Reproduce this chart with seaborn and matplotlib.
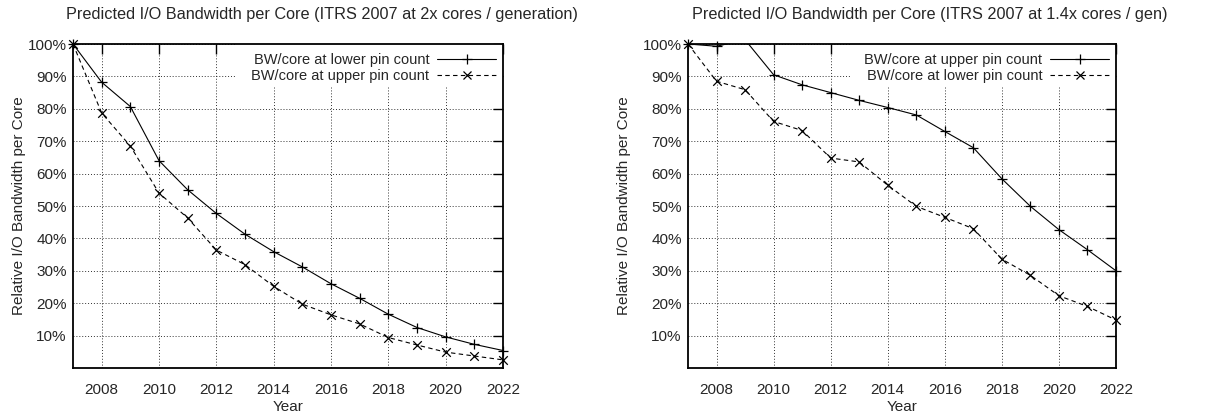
import matplotlib
matplotlib.use("Agg")
import matplotlib.pyplot as plt
from matplotlib.lines import Line2D
from matplotlib.patches import Rectangle
from matplotlib.ticker import FuncFormatter
import seaborn as sns
import pandas as pd

years = list(range(2007, 2023))

# Left panel: 2x cores / generation
left_lower = [100, 88.2, 80.7, 64.0, 55.0, 47.7, 41.3, 35.9, 31.2, 26.0, 21.5, 16.6, 12.5, 9.6, 7.3, 5.4]
left_upper = [100, 78.7, 68.5, 54.0, 46.3, 36.4, 31.9, 25.2, 19.7, 16.4, 13.6, 9.4, 7.1, 4.9, 3.7, 2.5]

# Right panel: 1.4x cores / gen
right_upper = [100, 99.3, 101.3, 90.5, 87.4, 85.0, 82.6, 80.4, 78.1, 73.0, 68.0, 58.4, 49.9, 42.7, 36.5, 30.0]
right_lower = [100, 88.5, 85.9, 76.1, 73.3, 64.8, 63.6, 56.4, 49.9, 46.5, 43.0, 33.6, 28.6, 22.3, 19.0, 14.8]

titles = ["Predicted I/O Bandwidth per Core (ITRS 2007 at 2x cores / generation)",
          "Predicted I/O Bandwidth per Core (ITRS 2007 at 1.4x cores / gen)"]
labels_left = ["BW/core at lower pin count", "BW/core at upper pin count"]
labels_right = ["BW/core at upper pin count", "BW/core at lower pin count"]
x_ticks = list(range(2008, 2023, 2))
y_ticks = list(range(10, 101, 10))

sns.set_style("white")
plt.rcParams['font.family'] = ['Liberation Sans', 'DejaVu Sans']
plt.rcParams['font.size'] = 11

W, H = 1207, 419
fig = plt.figure(figsize=(W / 100, H / 100), dpi=100)
ax1 = fig.add_axes([73 / W, (H - 368) / H, 430 / W, 324 / H])
ax2 = fig.add_axes([688 / W, (H - 368) / H, 428 / W, 324 / H])

dash = (0, (4, 3))

def draw(ax, solid, dashed, labels, title, title_x, ylab_x):
    df = pd.DataFrame({"Year": years, "solid": solid, "dashed": dashed})
    sns.lineplot(data=df, x="Year", y="solid", ax=ax, color="black", linewidth=0.8,
                 linestyle="-", zorder=3)
    sns.lineplot(data=df, x="Year", y="dashed", ax=ax, color="black", linewidth=0.8,
                 zorder=3)
    ax.lines[-1].set_linestyle(dash)
    ds = df[df["solid"] <= 100]
    dd = df[df["dashed"] <= 100]
    sns.scatterplot(data=ds, x="Year", y="solid", ax=ax, marker="+", color="black",
                    s=50, linewidth=0.9, clip_on=False, zorder=4)
    sns.scatterplot(data=dd, x="Year", y="dashed", ax=ax, marker="x", color="black",
                    s=38, linewidth=0.9, clip_on=False, zorder=4)
    ax.set_xlim(2007, 2022)
    ax.set_ylim(0, 100)
    ax.set_xticks(x_ticks)
    ax.set_yticks(y_ticks)
    ax.yaxis.set_major_formatter(FuncFormatter(lambda v, p: f"{int(v)}%"))
    ax.grid(True, color="black", linestyle=(0, (1, 2)), linewidth=0.7, alpha=0.8)
    ax.set_axisbelow(True)
    ax.tick_params(direction="in", top=True, right=True, length=7, width=1,
                   labelsize=11, color="black")
    ax.tick_params(axis="x", pad=11)
    ax.tick_params(axis="y", pad=4.5)
    for sp in ax.spines.values():
        sp.set_visible(True)
        sp.set_color("black")
        sp.set_linewidth(1.3)
    ax.set_xlabel("Year", fontsize=11)
    ax.xaxis.set_label_coords(0.5, -(400 - 368) / 324, transform=ax.transAxes)
    ax.set_ylabel("Relative I/O Bandwidth per Core", fontsize=11)
    ax.yaxis.set_label_coords(ylab_x, 0.5, transform=ax.transAxes)
    fig.text(title_x / W, 1 - 14 / H, title, ha="center", va="center", fontsize=11.7)
    # opaque key background (hides grid behind legend)
    ax.add_patch(Rectangle((0.38, 0.87), 0.62, 0.13, transform=ax.transAxes,
                           facecolor="white", edgecolor="none", zorder=2))
    handles = [Line2D([], [], color="black", lw=0.8, ls="-", marker="+", ms=7, mew=0.9),
               Line2D([], [], color="black", lw=0.8, ls=dash, marker="x", ms=6, mew=0.9)]
    leg = ax.legend(handles, labels, loc="upper right", frameon=False, markerfirst=False,
                    handlelength=4.1, handletextpad=0.5, labelspacing=0.15,
                    bbox_to_anchor=(0.995, 0.985), borderaxespad=0.0, borderpad=0.3,
                    fontsize=10.5, numpoints=1)
    leg.set_zorder(5)

draw(ax1, left_lower, left_upper, labels_left, titles[0], 322, (26 - 73) / 430)
draw(ax2, right_upper, right_lower, labels_right, titles[1], 930, (631 - 688) / 428)

fig.savefig("out.png", dpi=100)
